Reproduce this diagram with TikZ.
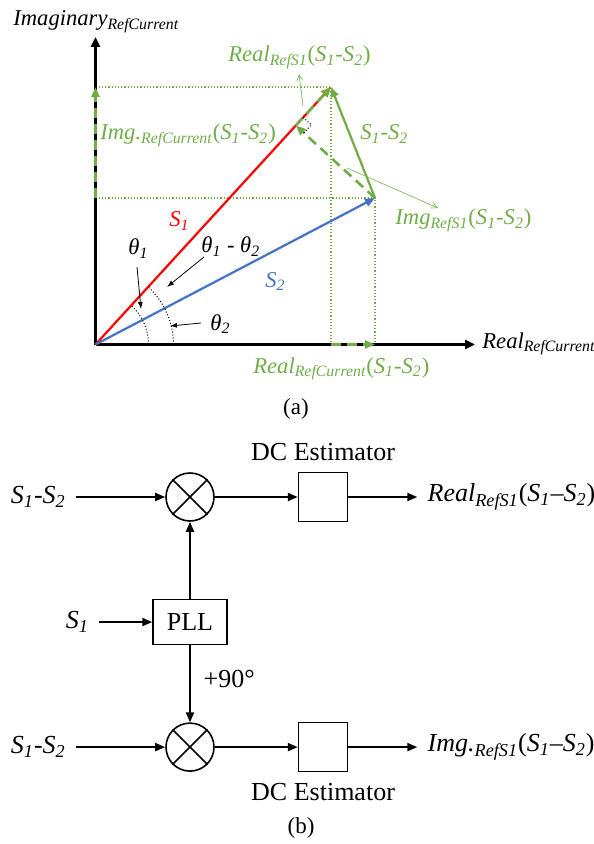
\documentclass[tikz,border=0pt]{standalone}
\usepackage{amsmath}
\usepackage{fontspec}
\setmainfont{Liberation Serif}
\usepackage{xcolor}
\usetikzlibrary{arrows.meta,positioning,calc}

\definecolor{vecgreen}{HTML}{70AD47}
\definecolor{vecblue}{HTML}{4472C4}

\newcommand{\sig}[1]{\textit{S}$_{\textit{#1}}$}
\newcommand{\lbl}[2]{\textit{#1}$_{\textit{#2}}$}

\begin{document}
\begin{tikzpicture}[
        x=0.5pt, y=-0.5pt,
        font=\fontsize{13}{15.6}\selectfont,
        node distance=38.5pt and 41.5pt,
        axis/.style={line width=1.5pt, -{Triangle[length=5pt,width=4.5pt]}},
        vec/.style={line width=1.1pt, -{Triangle[length=5pt,width=4pt]}},
        comp/.style={vecgreen, line width=1.3pt, dash pattern=on 5pt off 3pt, -{Triangle[length=5pt,width=4pt]}},
        guide/.style={vecgreen, densely dotted, line width=0.6pt},
        pointer/.style={vecgreen!85, line width=0.35pt, -{Straight Barb[length=3pt,width=3pt]}},
        angarrow/.style={line width=0.4pt, -{Latex[length=3.5pt,width=2.5pt]}},
        anglemark/.style={densely dotted, line width=0.5pt},
        lab/.style={font=\fontsize{11.3}{13.5}\selectfont, inner sep=0pt, anchor=base west},
        glab/.style={lab, text=vecgreen},
        mixer/.style={draw, circle, line width=0.8pt, minimum size=24pt, inner sep=0pt},
        block/.style={draw, line width=0.75pt, minimum width=24.5pt, minimum height=24.5pt, inner sep=0pt},
        io/.style={inner sep=5pt},
        flow/.style={line width=1pt, -{Triangle[length=5pt,width=4pt]}},
        caption/.style={font=\fontsize{11.5}{13.5}\selectfont}
    ]
    \useasboundingbox (0,0) rectangle (593,844);

    % (a) phasor diagram
    \coordinate (O) at (95.5,344.5);
    \coordinate (ytip) at (95.5,37);
    \coordinate (xtip) at (475,344.5);
    \coordinate (s1) at (331,87);
    \coordinate (s2) at (375,198);
    \coordinate (foot) at ($(O)!(s2)!(s1)$);

    \draw[guide] (O |- s1) -- (s1) -- (s1 |- O);
    \draw[guide] (O |- s2) -- (s2) -- (s2 |- O);

    \draw[axis] (O) -- (ytip);
    \draw[axis] (O) -- (xtip);

    \draw[vec, red] (O) -- (s1);
    \draw[vec, vecblue] (O) -- (s2);
    \draw[vec, vecgreen] (s2) -- (s1);
    \draw[comp] (s2) -- (foot);
    \draw[comp] (foot) -- (s1);
    \draw[comp] (O |- s2) -- (O |- s1);
    \draw[comp] (s1 |- O) -- (s2 |- O);

    \coordinate (ra) at ($(foot)!5.5pt!(s1)$);
    \coordinate (rb) at ($(foot)!5.5pt!(s2)$);
    \draw[anglemark] (ra) -- ($(ra)+(rb)-(foot)$) -- (rb);

    \draw[anglemark] ($(O)+(53,0)$) arc[start angle=0, end angle=47.3, radius=26.5pt];
    \draw[anglemark] ($(O)+(78,0)$) arc[start angle=0, end angle=47.3, radius=39pt];

    \node[lab] (imagaxis) at (13,26) {\lbl{Imaginary}{RefCurrent}};
    \node[lab] (realaxis) at (482,348) {\lbl{Real}{RefCurrent}};
    \node[glab] (realcur) at (253,373) {\lbl{Real}{RefCurrent}(\sig1-\sig2)};
    \node[glab] (imgcur) at (100,140) {\lbl{Img.}{RefCurrent}(\sig1-\sig2)};
    \node[glab] (realref) at (228,62) {\lbl{Real}{RefS1}(\sig1-\sig2)};
    \node[glab] (diff) at (360,140) {\sig1-\sig2};
    \node[glab] (imgref) at (395,225) {\lbl{Img}{RefS1}(\sig1-\sig2)};
    \node[lab, text=red] (s1lab) at (169,227) {\sig1};
    \node[lab, text=vecblue] (s2lab) at (265,287) {\sig2};
    \node[lab] (th1) at (128,255) {\textit{θ}$_{\textit{1}}$};
    \node[lab] (th12) at (201,253) {\textit{θ}$_{\textit{1}}$ - \textit{θ}$_{\textit{2}}$};
    \node[lab] (th2) at (210,330) {\textit{θ}$_{\textit{2}}$};

    \coordinate (realtail) at (303,106);
    \coordinate (realhead) at (299,74);
    \coordinate (imgtail) at (347,168);
    \coordinate (imghead) at (438,208);
    \draw[pointer] (realtail) -- (realhead);
    \draw[pointer] (imgtail) -- (imghead);

    \coordinate (th1tip) at (141,309);
    \coordinate (th12tip) at (167,287);
    \coordinate (th2tip) at (170,326);
    \draw[angarrow] (137,267) -- (th1tip);
    \draw[angarrow] (204,257) -- (th12tip);
    \draw[angarrow] (201,323) -- (th2tip);

    \node[caption] (capa) at (296,409) {(a)};

    % (b) block diagram
    \node[mixer] (mixtop) at (190,497) {};
    \node[block, right=of mixtop] (dctop) {};
    \node[block, below=of mixtop, minimum width=37pt, minimum height=22.5pt] (pll) {PLL};
    \node[mixer, below=of pll] (mixbot) {};
    \node[block, right=of mixbot] (dcbot) {};
    \foreach \m in {mixtop,mixbot}
        \draw[line width=0.8pt] (\m.45) -- (\m.225) (\m.135) -- (\m.315);

    \node[above=2pt of dctop] (dctoplab) {DC Estimator};
    \node[below=2pt of dcbot] (dcbotlab) {DC Estimator};

    \node[io, left=44.5pt of mixtop] (intop) {\sig1-\sig2};
    \node[io, left=26.5pt of pll] (ins1) {\sig1};
    \node[io, left=44.5pt of mixbot] (inbot) {\sig1-\sig2};
    \node[io, right=34.5pt of dctop] (outtop) {\lbl{Real}{RefS1}(\sig1--\sig2)};
    \node[io, right=34.5pt of dcbot] (outbot) {\lbl{Img.}{RefS1}(\sig1--\sig2)};

    \draw[flow] (intop) -- (mixtop);
    \draw[flow] (mixtop) -- (dctop);
    \draw[flow] (dctop) -- (outtop);
    \draw[flow] (ins1) -- (pll);
    \draw[flow] (pll) -- (mixtop);
    \draw[flow] (pll) -- node[pos=0.44, right=3pt] {+90°} (mixbot);
    \draw[flow] (inbot) -- (mixbot);
    \draw[flow] (mixbot) -- (dcbot);
    \draw[flow] (dcbot) -- (outbot);

    \node[caption] (capb) at (301,828) {(b)};

\end{tikzpicture}
\end{document}
